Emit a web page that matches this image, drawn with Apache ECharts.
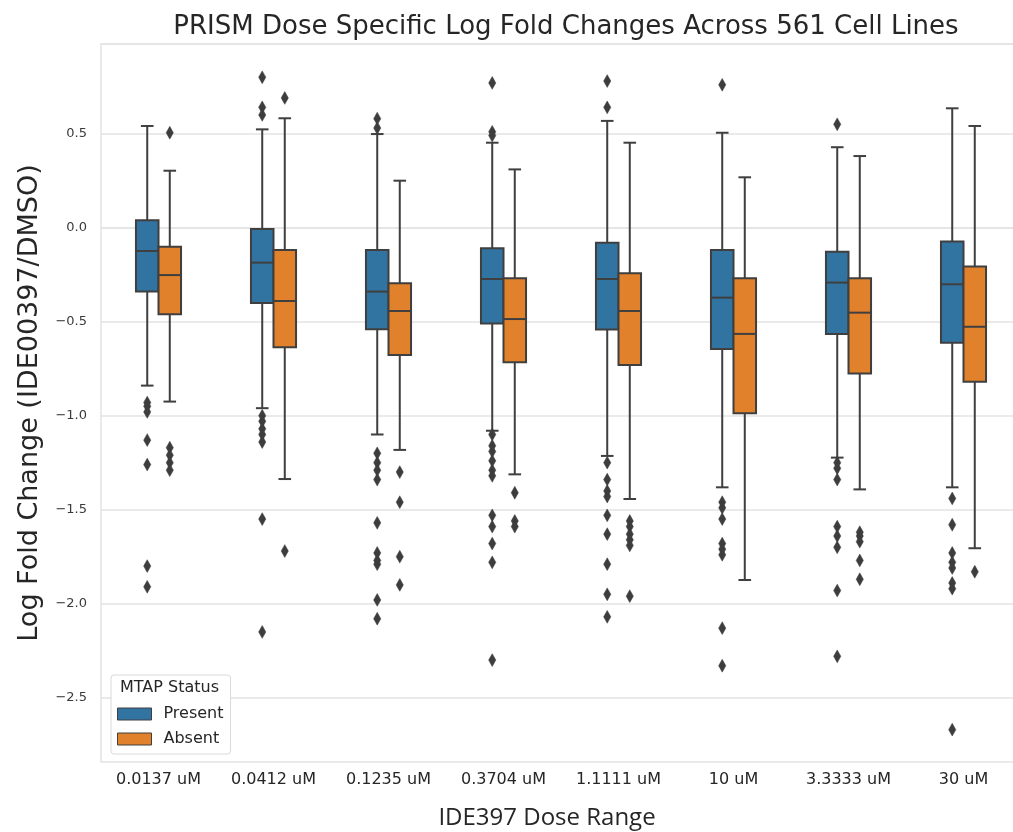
<!DOCTYPE html>
<html>
<head>
<meta charset="utf-8">
<script src="https://cdn.jsdelivr.net/npm/echarts@6/dist/echarts.min.js"></script>
<style>
  html, body { margin: 0; padding: 0; background: #fff; overflow: hidden; }
  #chart { width: 1040px; height: 832px; }
</style>
</head>
<body>
<div id="chart"></div>
<script>
// Dose levels along the x axis
const doses = ['0.0137 uM', '0.0412 uM', '0.1235 uM', '0.3704 uM', '1.1111 uM', '10 uM', '3.3333 uM', '30 uM'];

// Box summaries per dose: [lower whisker, Q1, median, Q3, upper whisker]
const presentBoxes = [
  [-0.84, -0.34, -0.124, 0.039, 0.541],
  [-0.96, -0.40, -0.186, -0.007, 0.523],
  [-1.10, -0.54, -0.340, -0.119, 0.498],
  [-1.08, -0.51, -0.273, -0.110, 0.452],
  [-1.214, -0.541, -0.273, -0.080, 0.568],
  [-1.381, -0.645, -0.372, -0.119, 0.505],
  [-1.223, -0.565, -0.292, -0.128, 0.428],
  [-1.381, -0.612, -0.301, -0.074, 0.635]
];
const absentBoxes = [
  [-0.925, -0.461, -0.252, -0.101, 0.303],
  [-1.337, -0.636, -0.390, -0.119, 0.582],
  [-1.182, -0.677, -0.443, -0.296, 0.250],
  [-1.312, -0.716, -0.486, -0.269, 0.310],
  [-1.443, -0.730, -0.443, -0.243, 0.452],
  [-1.874, -0.987, -0.565, -0.269, 0.268],
  [-1.392, -0.775, -0.452, -0.269, 0.381],
  [-1.705, -0.819, -0.527, -0.207, 0.541]
];

// Outlying cell lines per dose
const presentOutliers = [
  [-0.93, -0.95, -0.98, -1.13, -1.26, -1.80, -1.91],
  [0.80, 0.64, 0.60, -1.00, -1.03, -1.07, -1.10, -1.14, -1.55, -2.15],
  [0.58, 0.53, -1.20, -1.25, -1.29, -1.34, -1.57, -1.73, -1.77, -1.79, -1.98, -2.08],
  [0.77, 0.51, 0.49, -1.10, -1.16, -1.19, -1.24, -1.29, -1.32, -1.53, -1.59, -1.68, -1.78, -2.30],
  [0.78, 0.64, -1.25, -1.34, -1.40, -1.43, -1.53, -1.63, -1.79, -1.95, -2.07],
  [0.76, -1.46, -1.49, -1.55, -1.68, -1.71, -1.74, -2.13, -2.33],
  [0.55, -1.25, -1.28, -1.34, -1.59, -1.64, -1.70, -1.93, -2.28],
  [-1.44, -1.58, -1.73, -1.78, -1.81, -1.89, -1.92, -2.67]
];
const absentOutliers = [
  [0.505, -1.17, -1.21, -1.25, -1.29],
  [0.69, -1.72],
  [-1.30, -1.46, -1.75, -1.90],
  [-1.41, -1.56, -1.59],
  [-1.56, -1.59, -1.63, -1.66, -1.69, -1.96],
  [],
  [-1.62, -1.64, -1.67, -1.77, -1.87],
  [-1.83]
];

const groups = ['Present', 'Absent'];
const COLORS = { Present: '#3274a1', Absent: '#e1812c' };
const EDGE = '#3f3f3f';
const GRID_LINE = '#e3e3e3';
const TEXT = '#262626';

function boxData(boxes) {
  return boxes.map((b, i) => [i].concat(b));
}
function outlierData(list) {
  const out = [];
  list.forEach((vals, i) => vals.forEach(v => out.push([i, v])));
  return out;
}

// Box width as a fraction of one category band
const BOX_FRAC = 0.196;

function boxRenderer(side, fill) {
  return function (params, api) {
    const cat = api.value(0);
    const band = api.size([1, 0])[0];
    const bw = band * BOX_FRAC;
    const cx = api.coord([cat, 0])[0] + side * bw / 2;
    const yv = k => api.coord([cat, api.value(k)])[1];
    const lo = yv(1), q1 = yv(2), med = yv(3), q3 = yv(4), hi = yv(5);
    const cap = bw * 0.28;
    const ls = { stroke: EDGE, lineWidth: 2 };
    return {
      type: 'group',
      children: [
        { type: 'line', shape: { x1: cx, y1: q3, x2: cx, y2: hi }, style: ls },
        { type: 'line', shape: { x1: cx, y1: q1, x2: cx, y2: lo }, style: ls },
        { type: 'line', shape: { x1: cx - cap, y1: hi, x2: cx + cap, y2: hi }, style: ls },
        { type: 'line', shape: { x1: cx - cap, y1: lo, x2: cx + cap, y2: lo }, style: ls },
        { type: 'rect', shape: { x: cx - bw / 2, y: q3, width: bw, height: q1 - q3 },
          style: { fill: fill, stroke: EDGE, lineWidth: 2 } },
        { type: 'line', shape: { x1: cx - bw / 2, y1: med, x2: cx + bw / 2, y2: med }, style: ls }
      ]
    };
  };
}

function outlierRenderer(side) {
  return function (params, api) {
    const cat = api.value(0);
    const band = api.size([1, 0])[0];
    const bw = band * BOX_FRAC;
    const p = api.coord([cat, api.value(1)]);
    const cx = p[0] + side * bw / 2;
    const cy = p[1];
    const hw = 3.6, hh = 6.4;
    return {
      type: 'polygon',
      shape: { points: [[cx, cy - hh], [cx + hw, cy], [cx, cy + hh], [cx - hw, cy]] },
      style: { fill: '#3d3d3d', stroke: '#3d3d3d', lineWidth: 0.5 }
    };
  };
}

const chart = echarts.init(document.getElementById('chart'), null, { renderer: 'canvas' });

const series = [
  {
    name: 'Present', type: 'custom', renderItem: boxRenderer(-1, COLORS.Present),
    data: boxData(presentBoxes), encode: { x: 0, y: [1, 2, 3, 4, 5] },
    itemStyle: { color: COLORS.Present }, z: 3
  },
  {
    name: 'Absent', type: 'custom', renderItem: boxRenderer(1, COLORS.Absent),
    data: boxData(absentBoxes), encode: { x: 0, y: [1, 2, 3, 4, 5] },
    itemStyle: { color: COLORS.Absent }, z: 3
  },
  {
    name: 'Present outliers', type: 'custom', renderItem: outlierRenderer(-1),
    data: outlierData(presentOutliers), encode: { x: 0, y: 1 }, z: 4
  },
  {
    name: 'Absent outliers', type: 'custom', renderItem: outlierRenderer(1),
    data: outlierData(absentOutliers), encode: { x: 0, y: 1 }, z: 4
  }
];

chart.setOption({
  animation: false,
  backgroundColor: '#fff',
  title: {
    text: 'PRISM Dose Specific Log Fold Changes Across 561 Cell Lines',
    left: 561, top: 9, textAlign: 'center',
    textStyle: { fontFamily: 'DejaVu Sans', fontSize: 26, fontWeight: 'normal', color: TEXT }
  },
  // Plot area runs past the right edge of the page; only its left, top and bottom edges show
  grid: {
    left: 101, top: 44, width: 920, height: 718,
    show: false
  },
  legend: {
    orient: 'vertical', left: 111, top: 675,
    data: groups.map(g => ({
      name: g, icon: 'rect',
      itemStyle: { color: COLORS[g], borderColor: EDGE, borderWidth: 1 }
    })),
    itemWidth: 34, itemHeight: 12, itemGap: 9,
    padding: [31, 7, 7, 6],
    backgroundColor: '#fff', borderColor: '#d9d9d9', borderWidth: 1, borderRadius: 3,
    textStyle: { fontFamily: 'DejaVu Sans', fontSize: 16, color: TEXT, padding: [0, 0, 0, 7] },
    selectedMode: false
  },
  graphic: [
    {
      type: 'text', left: 120, top: 680, z: 100,
      style: { text: 'MTAP Status', fontFamily: 'DejaVu Sans', fontSize: 16, fill: TEXT }
    },
    {
      type: 'text', x: 547, y: 818, z: 100,
      style: {
        text: 'IDE397 Dose Range', fontFamily: 'Open Sans', fontSize: 24, fill: TEXT,
        align: 'center', verticalAlign: 'middle'
      }
    }
  ],
  xAxis: [
    {
      type: 'category', data: doses, boundaryGap: true, position: 'bottom',
      axisLine: { show: true, lineStyle: { color: GRID_LINE, width: 1.5 } },
      axisTick: { show: false },
      axisLabel: { fontFamily: 'DejaVu Sans', fontSize: 16, color: TEXT, margin: 10 },
      splitLine: { show: false }
    },
    {
      type: 'category', data: doses, boundaryGap: true, position: 'top',
      axisLine: { show: true, lineStyle: { color: GRID_LINE, width: 1.5 } },
      axisTick: { show: false }, axisLabel: { show: false }, splitLine: { show: false }
    }
  ],
  yAxis: {
    type: 'value', min: -2.842, max: 0.977, splitNumber: 8,
    name: 'Log Fold Change (IDE00397/DMSO)', nameLocation: 'middle', nameGap: 58,
    nameTextStyle: { fontFamily: 'DejaVu Sans', fontSize: 27, color: TEXT },
    axisLine: { show: true, lineStyle: { color: GRID_LINE, width: 1.5 } },
    axisTick: { show: false },
    axisLabel: {
      fontFamily: 'DejaVu Sans', fontSize: 13, color: '#3a3a3a', margin: 14,
      showMinLabel: false, showMaxLabel: false,
      formatter: v => (v < 0 ? '\u2212' : '') + Math.abs(v).toFixed(1)
    },
    splitLine: { show: true, lineStyle: { color: GRID_LINE, width: 1.5 } }
  },
  series: series
});
</script>
</body>
</html>
